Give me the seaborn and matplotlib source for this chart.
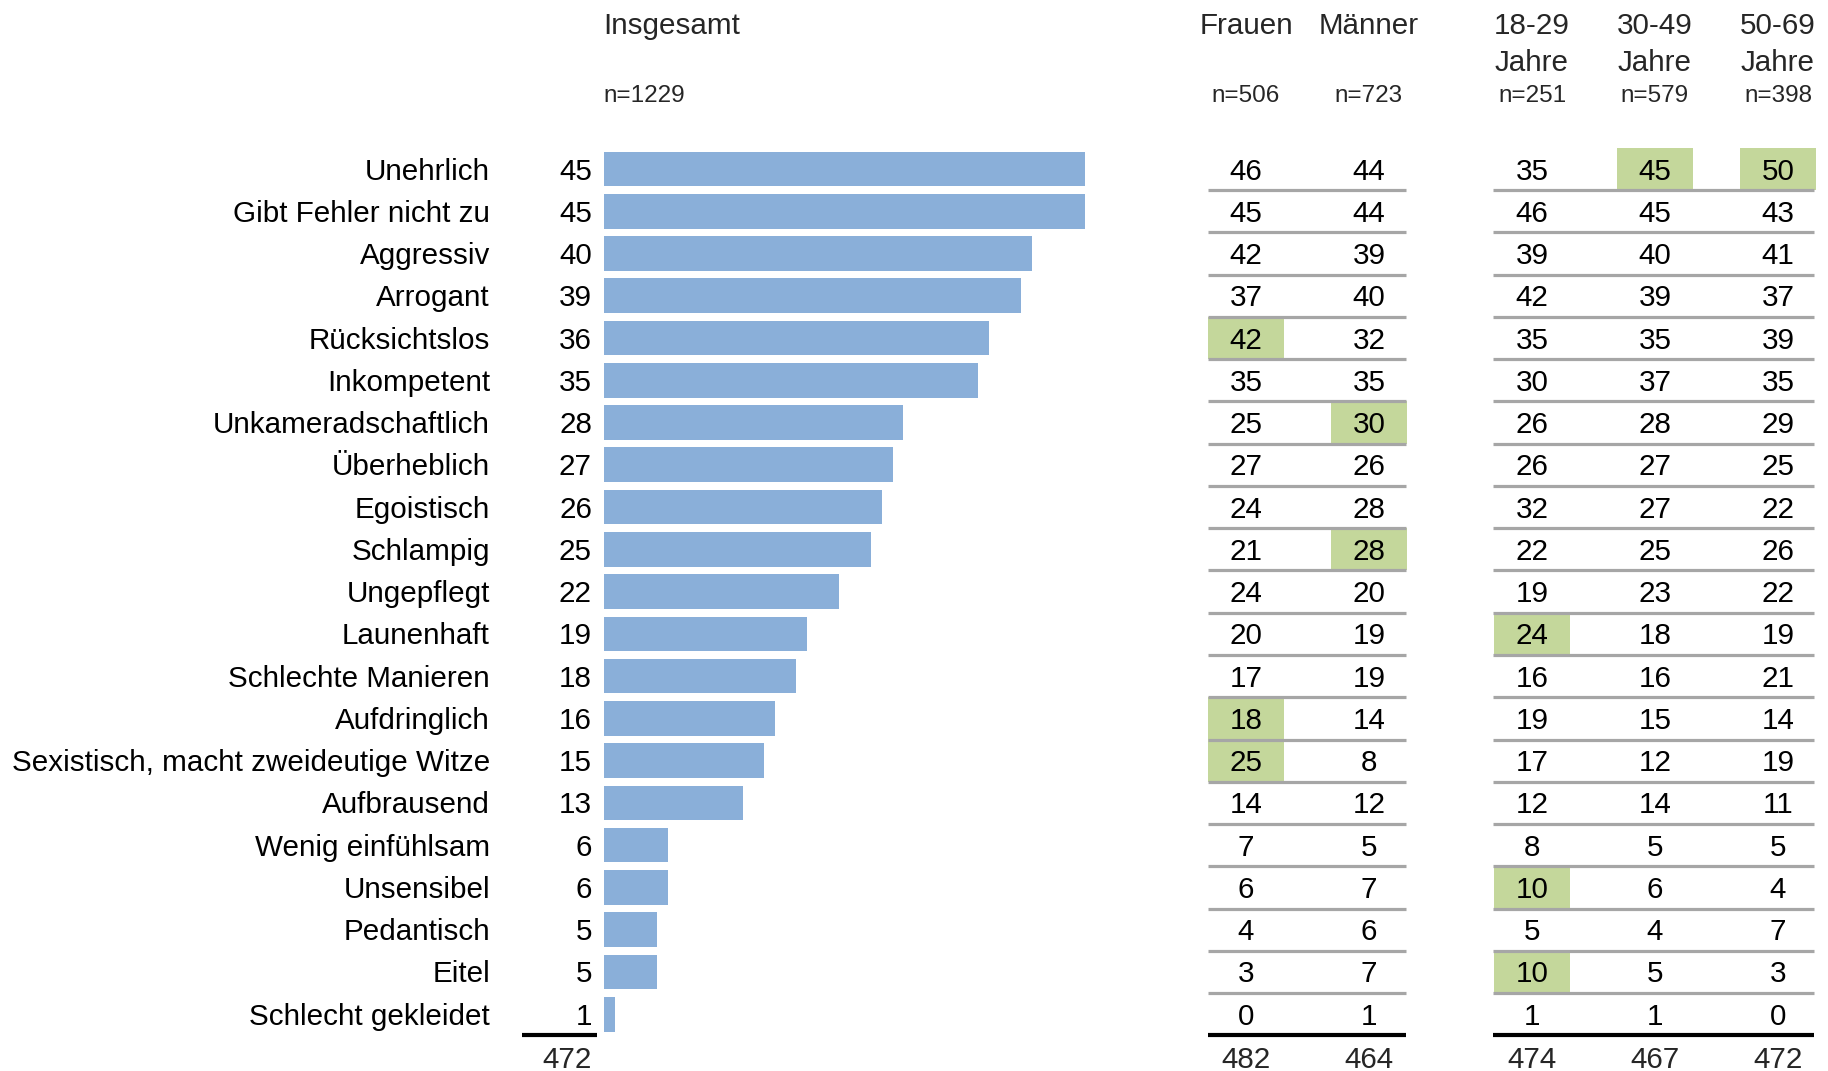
import matplotlib
matplotlib.use("Agg")
import matplotlib.pyplot as plt
import seaborn as sns
import pandas as pd
from matplotlib import transforms
from matplotlib.patches import Rectangle

# ---------------- data ----------------
categories = ["Unehrlich", "Gibt Fehler nicht zu", "Aggressiv", "Arrogant", "Rücksichtslos",
              "Inkompetent", "Unkameradschaftlich", "Überheblich", "Egoistisch", "Schlampig",
              "Ungepflegt", "Launenhaft", "Schlechte Manieren", "Aufdringlich",
              "Sexistisch, macht zweideutige Witze", "Aufbrausend", "Wenig einfühlsam",
              "Unsensibel", "Pedantisch", "Eitel", "Schlecht gekleidet"]
insgesamt = [45, 45, 40, 39, 36, 35, 28, 27, 26, 25, 22, 19, 18, 16, 15, 13, 6, 6, 5, 5, 1]
frauen = [46, 45, 42, 37, 42, 35, 25, 27, 24, 21, 24, 20, 17, 18, 25, 14, 7, 6, 4, 3, 0]
maenner = [44, 44, 39, 40, 32, 35, 30, 26, 28, 28, 20, 19, 19, 14, 8, 12, 5, 7, 6, 7, 1]
j18_29 = [35, 46, 39, 42, 35, 30, 26, 26, 32, 22, 19, 24, 16, 19, 17, 12, 8, 10, 5, 10, 1]
j30_49 = [45, 45, 40, 39, 35, 37, 28, 27, 27, 25, 23, 18, 16, 15, 12, 14, 5, 6, 4, 5, 1]
j50_69 = [50, 43, 41, 37, 39, 35, 29, 25, 22, 26, 22, 19, 21, 14, 19, 11, 5, 4, 7, 3, 0]

col_headers = [["Frauen"], ["Männer"], ["18-29", "Jahre"], ["30-49", "Jahre"], ["50-69", "Jahre"]]
col_n = ["n=506", "n=723", "n=251", "n=579", "n=398"]
col_totals = [482, 464, 474, 467, 472]
total_insgesamt = 472
header_insgesamt = "Insgesamt"
n_insgesamt = "n=1229"

highlight = {
    0: ["Rücksichtslos", "Aufdringlich", "Sexistisch, macht zweideutige Witze"],
    1: ["Unkameradschaftlich", "Schlampig"],
    2: ["Launenhaft", "Unsensibel", "Eitel"],
    3: ["Unehrlich"],
    4: ["Unehrlich"],
}

# ---------------- style ----------------
sns.set_theme(style="white")
plt.rcParams['font.family'] = ['Liberation Sans', 'DejaVu Sans']

BAR = "#8AAFD9"
GREEN = "#C4D79B"
GRAY = "#A6A6A6"
FS = 21.3
FS_N = 17.5

W, H = 1828, 1071
fig = plt.figure(figsize=(W / 100, H / 100), dpi=100)
ax = fig.add_axes([0, 0, 1, 1])

df = pd.DataFrame({"Eigenschaft": categories, "Wert": insgesamt})
sns.barplot(data=df, y="Eigenschaft", x="Wert", orient="h", color=BAR, saturation=1,
            width=0.82, linewidth=0, ax=ax)

PX_PER_UNIT = 10.69
X0 = 604
ROW0, ROWH = 169, 42.26
ax.set_xlim(-X0 / PX_PER_UNIT, (W - X0) / PX_PER_UNIT)
ax.set_ylim((H - ROW0) / ROWH, -ROW0 / ROWH)
ax.axis("off")

tr = transforms.blended_transform_factory(fig.transFigure, ax.transData)
fx = lambda p: p / W
hy = lambda p: (p - ROW0) / ROWH
DY = 2.5 / ROWH  # small downward text shift

nrow = len(categories)
cols = [frauen, maenner, j18_29, j30_49, j50_69]
col_centers = [1246, 1369, 1532, 1655, 1778]
CELL_W = 76
groups = [(1208, 1406), (1493, 1814)]

# left labels & values
for i, (c, v) in enumerate(zip(categories, insgesamt)):
    ax.text(fx(490), i + DY, c, ha="right", va="center", fontsize=FS, color="black", transform=tr)
    ax.text(fx(592), i + DY, str(v), ha="right", va="center", fontsize=FS, color="black", transform=tr)

# green cells
for ci, names in highlight.items():
    for name in names:
        r = categories.index(name)
        ax.add_patch(Rectangle((fx(col_centers[ci] - CELL_W / 2), r - 0.5), CELL_W / W, 1,
                               facecolor=GREEN, edgecolor="none", transform=tr, zorder=1))

# table values
for ci, vals in enumerate(cols):
    for i, v in enumerate(vals):
        ax.text(fx(col_centers[ci]), i + DY, str(v), ha="center", va="center", fontsize=FS,
                color="black", transform=tr, zorder=3)

# separators
for x0, x1 in groups:
    for i in range(nrow - 1):
        ax.plot([fx(x0), fx(x1)], [i + 0.5, i + 0.5], color=GRAY, lw=2.3,
                solid_capstyle="butt", transform=tr, zorder=2)
    ax.plot([fx(x0), fx(x1)], [nrow - 0.5, nrow - 0.5], color="black", lw=3,
            solid_capstyle="butt", transform=tr, zorder=2)
ax.plot([fx(522), fx(597)], [nrow - 0.5, nrow - 0.5], color="black", lw=3,
        solid_capstyle="butt", transform=tr, zorder=2)

# totals
ax.text(fx(592), hy(1060), str(total_insgesamt), ha="right", va="center", fontsize=FS, transform=tr)
for ci, t in enumerate(col_totals):
    ax.text(fx(col_centers[ci]), hy(1060), str(t), ha="center", va="center", fontsize=FS, transform=tr)

# headers
ax.text(fx(603), hy(25.5), header_insgesamt, ha="left", va="center", fontsize=FS, transform=tr)
ax.text(fx(603), hy(96), n_insgesamt, ha="left", va="center", fontsize=FS_N, transform=tr)
for ci, lines in enumerate(col_headers):
    for li, line in enumerate(lines):
        ax.text(fx(col_centers[ci]), hy(25.5 + 37.5 * li), line, ha="center", va="center",
                fontsize=FS, transform=tr)
    ax.text(fx(col_centers[ci]), hy(96), col_n[ci], ha="center", va="center",
            fontsize=FS_N, transform=tr)

fig.savefig("out.png", dpi=100, facecolor="white")
